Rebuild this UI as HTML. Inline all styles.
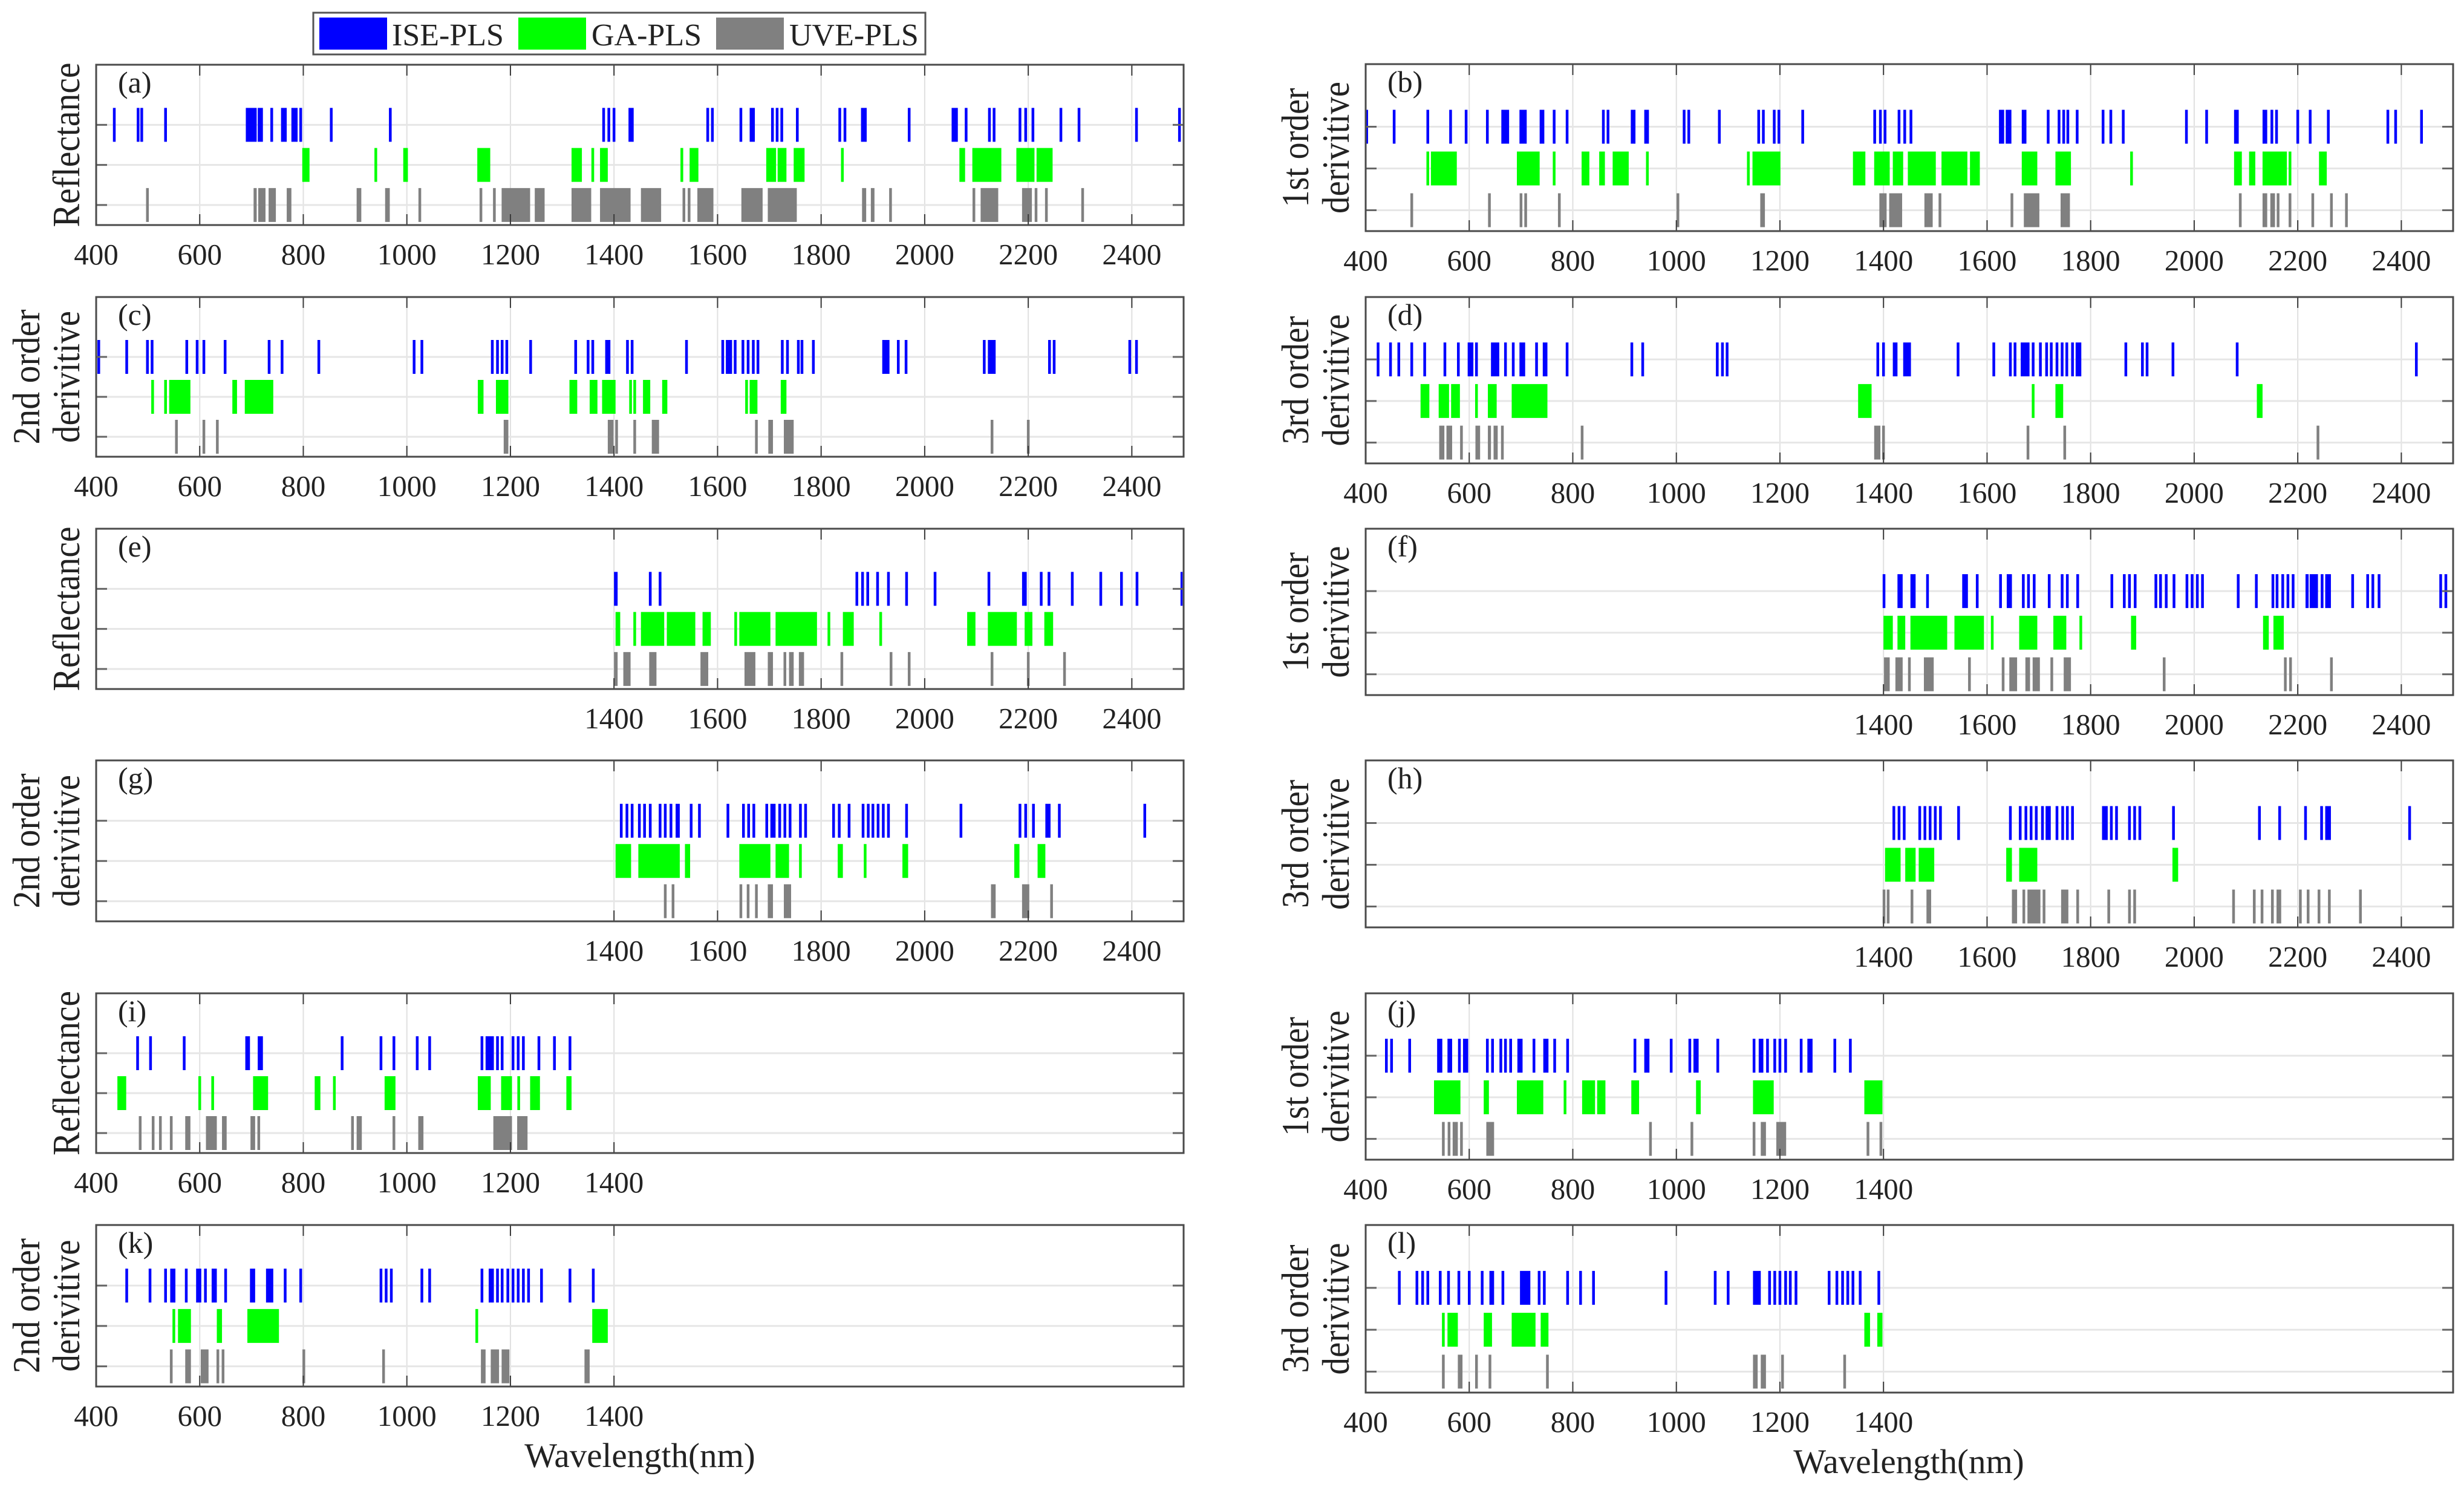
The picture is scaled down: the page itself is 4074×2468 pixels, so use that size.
<!DOCTYPE html>
<html lang="en">
<head>
<meta charset="utf-8">
<title>Selected wavelengths by ISE-PLS, GA-PLS and UVE-PLS</title>
<style>
html,body{margin:0;padding:0;background:#fff;}
svg{display:block;}
text{font-family:"Liberation Serif",serif;fill:#222;}
</style>
</head>
<body>
<svg id="figure" xmlns="http://www.w3.org/2000/svg" width="4074" height="2468" viewBox="0 0 4074 2468">
  <rect x="0" y="0" width="4074" height="2468" fill="#ffffff"/>
  <g>
    <rect x="518" y="21" width="1012" height="69" fill="#fff" stroke="#555" stroke-width="3"/>
    <rect x="528" y="29" width="112" height="53" fill="#0000ff"/>
    <text x="648" y="75" font-size="52">ISE-PLS</text>
    <rect x="857" y="29" width="112" height="53" fill="#00ff00"/>
    <text x="978" y="75" font-size="52">GA-PLS</text>
    <rect x="1184" y="29" width="112" height="53" fill="#808080"/>
    <text x="1305" y="75" font-size="52">UVE-PLS</text>
  </g>
  <text x="1058" y="2425" font-size="57" text-anchor="middle">Wavelength(nm)</text>
  <text x="3156" y="2435" font-size="57" text-anchor="middle">Wavelength(nm)</text>
</svg>
<script>
// Selected wavelengths in nm. A plain number is one selected band, a pair is a contiguous run.
const fullTicks = [400, 600, 800, 1000, 1200, 1400, 1600, 1800, 2000, 2200, 2400];
const upperTicks = [1400, 1600, 1800, 2000, 2200, 2400];
const lowerTicks = [400, 600, 800, 1000, 1200, 1400];

const a_ise = [435, 481, 488, 534, [689, 710], [712, 722], 739, [757, 768], [777, 789], 795, 854, 968, 1380, 1390, 1400, [1428, 1438], 1581, 1590, 1645, [1662, 1672], 1706, 1715, 1724, 1754, 1836, 1846, [1877, 1888], 1970, [2052, 2064], 2080, 2125, 2134, 2184, 2195, 2209, 2263, 2298, 2409, 2492];
const a_ga = [[798, 812], 940, [993, 1002], [1136, 1161], [1318, 1338], 1359, [1373, 1388], 1531, [1546, 1563], [1694, 1713], [1716, 1733], [1747, 1768], 1841, [2067, 2078], [2092, 2148], [2177, 2212], [2216, 2247]];
const a_uve = [499, [704, 710], [713, 727], [733, 747], [768, 777], [903, 912], [958, 967], 1025, 1143, 1169, [1183, 1238], [1247, 1266], [1318, 1356], [1373, 1432], [1452, 1491], 1535, 1545, [1561, 1592], [1646, 1687], [1697, 1753], [1879, 1887], [1896, 1903], 1934, 2095, [2108, 2142], [2188, 2207], 2215, 2235, 2305];

const b_ise = [402, 455, 520, 564, 594, 635, [662, 677], [697, 711], [736, 745], 764, 789, 859, 868, [912, 921], [938, 947], 1015, 1024, 1083, 1159, 1168, 1189, 1198, 1244, 1383, 1394, 1403, 1430, 1441, 1453, [1623, 1633], [1636, 1647], [1667, 1676], 1718, 1739, 1748, 1756, 1774, 1824, 1839, 1863, 1985, 2024, [2077, 2086], [2132, 2141], 2150, 2159, 2200, 2224, 2259, 2374, 2389, 2439];
const b_ga = [520, [526, 576], [692, 736], 764, [817, 832], [851, 862], [877, 908], 944, 1139, [1147, 1201], [1341, 1365], [1382, 1412], [1418, 1438], [1447, 1501], [1512, 1562], [1567, 1586], [1667, 1697], [1732, 1762], 1879, [2077, 2092], [2106, 2118], [2132, 2179], 2185, [2241, 2256]];
const b_uve = [489, 639, 700, 709, 774, 1003, [1162, 1171], [1392, 1406], [1411, 1436], [1479, 1495], 1509, 1648, [1671, 1701], [1742, 1760], 2089, [2132, 2141], [2147, 2156], 2162, 2185, 2229, 2265, 2294];

const c_ise = [405, 459, 499, 508, 575, 595, 608, 649, 734, 759, 830, 1014, 1029, 1165, 1175, 1184, 1193, 1239, 1326, 1350, 1359, [1383, 1393], 1426, 1435, 1540, 1610, [1616, 1628], 1634, 1649, 1659, 1669, 1678, 1725, 1735, 1756, 1763, 1785, [1918, 1932], 1949, 1964, 2115, [2122, 2137], 2241, 2250, 2396, 2409];
const c_ga = [509, 534, [541, 582], [663, 672], [687, 742], [1137, 1148], [1172, 1196], [1314, 1329], [1353, 1368], [1377, 1403], 1432, 1440, [1456, 1470], [1493, 1503], 1656, [1662, 1677], [1722, 1733]];
const c_uve = [555, 608, 634, [1187, 1196], [1388, 1399], 1405, 1440, [1473, 1487], 1675, [1698, 1707], [1728, 1747], 2130, 2200];

const d_ise = [424, 448, 464, 489, 514, 553, 579, [597, 608], 614, [642, 658], 670, 685, [697, 708], 730, [742, 751], 789, 914, 935, 1079, 1089, 1098, 1389, 1400, [1418, 1427], [1438, 1453], 1544, 1613, 1645, 1654, [1665, 1682], 1689, 1703, 1715, 1724, 1735, 1745, 1754, 1765, [1771, 1782], 1868, 1900, 1909, 1959, 2083, 2429];
const d_ga = [[506, 523], [541, 561], [565, 582], 614, [636, 653], [682, 751], [1351, 1377], 1689, [1732, 1747], [2121, 2132]];
const d_uve = [[542, 552], [556, 567], 585, [612, 621], [636, 642], [647, 655], 664, 818, [1382, 1394], 1400, 1679, 1750, 2239];

const e_ise = [[1400, 1407], 1470, 1489, 1869, 1880, 1890, 1909, 1930, 1965, 2020, 2124, [2188, 2197], 2225, 2240, 2285, 2340, 2380, 2410, [2494, 2498]];
const e_ga = [[1403, 1412], 1440, [1452, 1497], [1502, 1557], [1571, 1587], 1635, [1642, 1702], [1712, 1792], 1815, [1842, 1863], 1915, [2082, 2098], [2122, 2178], [2193, 2208], [2231, 2248]];
const e_uve = [[1400, 1407], [1418, 1432], [1468, 1482], [1567, 1582], [1652, 1673], [1697, 1707], 1730, [1738, 1747], [1757, 1767], 1840, 1935, 1970, 2130, 2200, 2270];

const f_ise = [1401, [1427, 1437], [1452, 1462], 1485, [1552, 1563], 1581, 1626, [1638, 1648], 1670, 1680, 1691, 1720, 1745, 1755, 1775, 1841, 1865, 1875, 1886, 1926, 1935, 1946, 1961, 1986, 1996, 2006, 2016, 2085, 2120, 2152, 2160, 2171, 2181, 2191, [2215, 2221], [2223, 2239], 2247, [2253, 2264], 2306, 2335, 2345, 2357, 2476, 2486];
const f_ga = [[1400, 1418], [1427, 1442], [1452, 1523], [1537, 1594], 1610, [1662, 1697], [1728, 1753], 1781, [1878, 1888], [2133, 2144], [2153, 2173]];
const f_uve = [[1401, 1412], [1423, 1437], 1450, [1478, 1497], 1566, 1631, [1643, 1658], [1674, 1683], [1688, 1702], 1725, [1748, 1762], 1942, 2176, 2186, 2265];

const g_ise = [1414, 1425, 1435, 1449, 1459, 1470, 1489, 1499, 1510, [1519, 1527], 1549, 1565, 1620, 1650, 1660, 1670, 1695, [1702, 1712], 1720, 1730, 1740, 1760, 1770, 1824, 1835, 1854, 1881, 1891, 1900, 1910, 1920, 1930, 1965, 2070, 2184, 2195, 2210, [2233, 2243], 2260, 2425];
const g_ga = [[1403, 1433], [1447, 1527], [1537, 1547], [1642, 1702], [1712, 1738], 1760, [1832, 1842], 1885, [1957, 1968], [2173, 2183], [2218, 2233]];
const g_uve = [1499, 1514, 1645, 1659, 1675, [1697, 1707], [1728, 1742], [2128, 2137], [2188, 2202], 2245];

const h_ise = [1420, 1430, 1440, 1470, 1480, 1490, 1500, 1510, 1545, 1645, 1664, 1675, 1685, 1695, 1707, [1713, 1723], 1735, 1746, 1755, 1765, [1822, 1833], 1840, 1850, 1875, 1885, 1895, 1960, 2126, 2165, 2215, 2246, [2253, 2264], 2416];
const h_ga = [[1403, 1433], [1442, 1462], [1468, 1498], [1637, 1648], [1662, 1697], [1958, 1969]];
const h_uve = [1401, 1409, 1455, [1483, 1492], [1648, 1658], 1671, [1678, 1703], 1710, [1743, 1757], 1775, 1835, 1875, 1885, 2076, 2116, 2131, 2151, [2159, 2168], 2205, 2220, 2241, 2261, 2321];

const i_ise = [480, 505, 570, [688, 697], [712, 722], 875, 950, 975, 1020, 1044, 1145, [1152, 1168], 1175, 1184, 1205, 1215, 1225, 1255, 1285, 1315];
const i_ga = [[441, 458], 600, 625, [703, 732], [822, 833], 860, [957, 978], [1137, 1162], [1182, 1203], 1216, [1238, 1257], [1308, 1318]];
const i_uve = [485, 510, 524, 545, [572, 582], [612, 633], [643, 652], [698, 707], 714, 895, [903, 913], 975, [1022, 1032], [1167, 1203], [1213, 1233]];

const j_ise = [440, 450, 485, [538, 548], [558, 567], 581, [588, 598], 635, 645, 661, 670, 680, [693, 703], 725, [743, 753], 765, 790, 920, [938, 948], 990, 1026, [1033, 1043], 1080, 1150, [1159, 1168], 1176, 1190, 1200, 1211, 1241, [1253, 1263], 1306, 1336];
const j_ga = [[532, 583], [628, 638], [692, 743], 785, [818, 843], [847, 863], [913, 928], [1038, 1047], [1148, 1188], [1363, 1398]];
const j_uve = [550, 561, [568, 578], 585, [633, 648], 950, 1030, 1150, [1163, 1173], [1193, 1212], 1370, 1395];

const k_ise = [459, 504, 534, [543, 553], 574, [593, 603], 611, [623, 633], 650, [697, 707], [728, 742], 765, 795, 950, 960, 970, 1029, 1044, 1145, [1158, 1168], 1175, 1184, 1195, 1205, 1215, 1225, 1235, 1260, 1315, 1360];
const k_ga = [550, [558, 583], [633, 643], [692, 753], 1135, [1358, 1388]];
const k_uve = [545, [572, 583], [602, 617], 635, 645, 801, 955, [1143, 1152], [1162, 1178], [1183, 1198], [1343, 1353]];

const l_ise = [465, 499, 510, 520, 544, 560, 580, 600, 625, [639, 648], 665, [698, 718], 735, 745, 790, 815, 840, 980, 1075, 1100, [1148, 1163], 1180, 1190, 1200, 1211, 1220, 1231, 1295, 1310, 1321, 1331, 1341, 1355, 1391];
const l_ga = [550, [558, 578], [628, 644], [682, 728], [738, 753], [1363, 1374], [1388, 1398]];
const l_uve = [550, [578, 587], 614, 640, 751, [1148, 1157], [1163, 1173], 1205, 1325];

const NS = 'http://www.w3.org/2000/svg';
const svg = document.getElementById('figure');

function make(tag, attrs, parent) {
  const node = document.createElementNS(NS, tag);
  for (const key in attrs) node.setAttribute(key, attrs[key]);
  parent.appendChild(node);
  return node;
}

const X_MIN = 400, X_MAX = 2500, Y_MIN = 0.5, Y_MAX = 4.5;
const PLOT_WIDTH = 1798, BAR_HALF = 28, THIN_WIDTH = 4.5;
const LEFT_COL = {left: 159, labelOne: 65, labelTwo: 131, singleLabel: 131};
const RIGHT_COL = {left: 2258, labelOne: 2163, labelTwo: 2230, singleLabel: 2163};
const TITLE_LENGTHS = {'Reflectance': 272, '1st order': 197, '2nd order': 223, '3rd order': 212, 'derivitive': 218};

const panels = [
  {id: 'a', col: LEFT_COL, top: 107, bottom: 372, ticks: fullTicks, label: ['Reflectance'], ise: a_ise, ga: a_ga, uve: a_uve},
  {id: 'b', col: RIGHT_COL, top: 106, bottom: 382, ticks: fullTicks, label: ['1st order', 'derivitive'], ise: b_ise, ga: b_ga, uve: b_uve},
  {id: 'c', col: LEFT_COL, top: 491, bottom: 755, ticks: fullTicks, label: ['2nd order', 'derivitive'], ise: c_ise, ga: c_ga, uve: c_uve},
  {id: 'd', col: RIGHT_COL, top: 491, bottom: 766, ticks: fullTicks, label: ['3rd order', 'derivitive'], ise: d_ise, ga: d_ga, uve: d_uve},
  {id: 'e', col: LEFT_COL, top: 874, bottom: 1139, ticks: upperTicks, label: ['Reflectance'], ise: e_ise, ga: e_ga, uve: e_uve},
  {id: 'f', col: RIGHT_COL, top: 874, bottom: 1149, ticks: upperTicks, label: ['1st order', 'derivitive'], ise: f_ise, ga: f_ga, uve: f_uve},
  {id: 'g', col: LEFT_COL, top: 1257, bottom: 1523, ticks: upperTicks, label: ['2nd order', 'derivitive'], ise: g_ise, ga: g_ga, uve: g_uve},
  {id: 'h', col: RIGHT_COL, top: 1257, bottom: 1533, ticks: upperTicks, label: ['3rd order', 'derivitive'], ise: h_ise, ga: h_ga, uve: h_uve},
  {id: 'i', col: LEFT_COL, top: 1642, bottom: 1906, ticks: lowerTicks, label: ['Reflectance'], ise: i_ise, ga: i_ga, uve: i_uve},
  {id: 'j', col: RIGHT_COL, top: 1642, bottom: 1917, ticks: lowerTicks, label: ['1st order', 'derivitive'], ise: j_ise, ga: j_ga, uve: j_uve},
  {id: 'k', col: LEFT_COL, top: 2025, bottom: 2292, ticks: lowerTicks, label: ['2nd order', 'derivitive'], ise: k_ise, ga: k_ga, uve: k_uve},
  {id: 'l', col: RIGHT_COL, top: 2025, bottom: 2302, ticks: lowerTicks, label: ['3rd order', 'derivitive'], ise: l_ise, ga: l_ga, uve: l_uve}
];

function drawPanel(p) {
  const left = p.col.left, right = left + PLOT_WIDTH;
  const xScale = nm => left + (nm - X_MIN) / (X_MAX - X_MIN) * PLOT_WIDTH;
  const yScale = v => p.bottom - (v - Y_MIN) / (Y_MAX - Y_MIN) * (p.bottom - p.top);

  const group = make('g', {}, svg);
  
  

  // vertical grid
  p.ticks.forEach(t => {
    const line = make('line', {x1: xScale(t), x2: xScale(t), y1: p.top, y2: p.bottom, stroke: '#e0e0e0', 'stroke-width': 2}, group);
    
    
  });
  // horizontal grid
  [1, 2, 3].forEach(v => {
    const line = make('line', {x1: left, x2: right, y1: yScale(v), y2: yScale(v), stroke: '#e6e6e6', 'stroke-width': 3}, group);
    
    
  });

  // selected-wavelength marks
  const seriesList = [
    {key: 'ise-pls', values: p.ise, row: 3, color: '#0000ff'},
    {key: 'ga-pls', values: p.ga, row: 2, color: '#00ff00'},
    {key: 'uve-pls', values: p.uve, row: 1, color: '#808080'}
  ];
  seriesList.forEach(s => {
    const cy = yScale(s.row);
    s.values.forEach(v => {
      const isRun = Array.isArray(v);
      const x0 = isRun ? xScale(v[0]) : xScale(v) - THIN_WIDTH / 2;
      const w = isRun ? xScale(v[1]) - xScale(v[0]) : THIN_WIDTH;
      const bar = make('rect', {x: x0, y: cy - BAR_HALF, width: w, height: BAR_HALF * 2, fill: s.color}, group);
      
      
    });
  });

  // ticks
  const tickColor = '#3a3a3a';
  p.ticks.forEach(t => {
    const topTick = make('line', {x1: xScale(t), x2: xScale(t), y1: p.top, y2: p.top + 18, stroke: tickColor, 'stroke-width': 2}, group);
    
    
    const bottomTick = make('line', {x1: xScale(t), x2: xScale(t), y1: p.bottom, y2: p.bottom - 18, stroke: tickColor, 'stroke-width': 2}, group);
    
    
    const label = make('text', {x: xScale(t), y: p.bottom + 65, 'font-size': 49, 'text-anchor': 'middle'}, group);
    
    
    label.textContent = String(t);
  });
  [1, 2, 3].forEach(v => {
    const leftTick = make('line', {x1: left, x2: left + 18, y1: yScale(v), y2: yScale(v), stroke: '#666', 'stroke-width': 3}, group);
    
    
    const rightTick = make('line', {x1: right, x2: right - 18, y1: yScale(v), y2: yScale(v), stroke: '#666', 'stroke-width': 3}, group);
    
    
  });

  // axes box
  const box = make('rect', {x: left, y: p.top, width: PLOT_WIDTH, height: p.bottom - p.top, fill: 'none', stroke: '#4a4a4a', 'stroke-width': 3}, group);
  
  

  // panel letter
  const letter = make('text', {x: left + 36, y: p.top + 46, 'font-size': 50}, group);
  
  
  letter.textContent = '(' + p.id + ')';

  // y axis label: glyphs in the reference are taller across the line than along it
  const mid = (p.top + p.bottom) / 2;
  const baselines = p.label.length === 1 ? [p.col.singleLabel] : [p.col.labelOne, p.col.labelTwo];
  p.label.forEach((txt, i) => {
    const t = make('text', {x: baselines[i], y: mid, 'font-size': 63, 'text-anchor': 'middle', textLength: TITLE_LENGTHS[txt], lengthAdjust: 'spacingAndGlyphs', transform: 'rotate(-90 ' + baselines[i] + ' ' + mid + ')'}, group);
    
    
    t.textContent = txt;
  });
}

panels.forEach(drawPanel);
</script>
</body>
</html>
